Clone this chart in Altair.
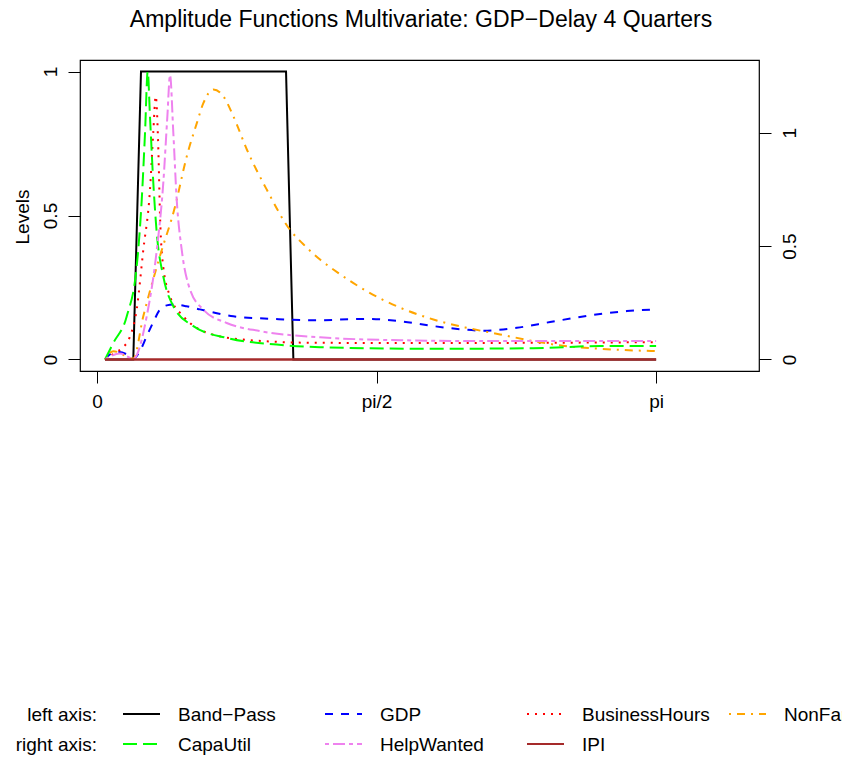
import altair as alt
import pandas as pd

TITLE = "Amplitude Functions Multivariate: GDP\u2212Delay 4 Quarters"
FONT = "Liberation Sans"

# frequency as fraction of pi
bp_x = [0.0143, 0.0649, 0.0787, 0.3381, 0.3512, 1.0]
bp_y = [0.0, 0.0, 1.0, 1.0, 0.0, 0.0]

gdp_x = [0.0143, 0.0250, 0.0400, 0.0530, 0.0649, 0.0770, 0.0889, 0.1007, 0.1127, 0.1246,
         0.1365, 0.1600, 0.1843, 0.2438, 0.3154, 0.3870, 0.4825, 0.5420, 0.6016, 0.6500,
         0.6905, 0.7508, 0.8104, 0.8850, 0.9476, 1.0]
gdp_y = [0.000, 0.020, 0.026, 0.018, 0.003, 0.030, 0.081, 0.130, 0.174, 0.188,
         0.191, 0.185, 0.174, 0.150, 0.141, 0.136, 0.141, 0.133, 0.116, 0.105,
         0.100, 0.110, 0.130, 0.154, 0.168, 0.174]

bh_x = [0.0143, 0.0300, 0.0450, 0.0580, 0.0710, 0.0828, 0.0948, 0.1007, 0.1050, 0.1097,
        0.1127, 0.1186, 0.1306, 0.1544, 0.1902, 0.2617, 0.3870, 0.6000, 0.8000, 1.0]
bh_y = [0.000, 0.020, 0.040, 0.075, 0.174, 0.380, 0.590, 0.790, 0.914, 0.730,
        0.500, 0.320, 0.220, 0.150, 0.098, 0.069, 0.058, 0.057, 0.058, 0.060]

nfp_x = [0.0143, 0.0292, 0.0649, 0.0828, 0.1127, 0.1395, 0.1605, 0.1784, 0.1902, 0.2081,
         0.2259, 0.2438, 0.2678, 0.3036, 0.3453, 0.3691, 0.3989, 0.4227, 0.4825, 0.5420,
         0.6016, 0.6614, 0.7209, 0.7800, 0.8402, 0.8998, 1.0]
nfp_y = [0.000, 0.029, 0.003, 0.150, 0.360, 0.530, 0.705, 0.820, 0.890, 0.9375,
         0.914, 0.845, 0.730, 0.590, 0.450, 0.400, 0.347, 0.3125, 0.237, 0.180,
         0.139, 0.110, 0.087, 0.064, 0.046, 0.037, 0.029]

cu_x = [0.0143, 0.0292, 0.0531, 0.0710, 0.0800, 0.0859, 0.0907, 0.0948, 0.1007, 0.1068,
        0.1186, 0.1365, 0.1723, 0.2320, 0.3215, 0.3989, 0.6016, 0.7800, 0.8998, 1.0]
cu_y = [0.000, 0.073, 0.190, 0.410, 0.704, 1.000, 1.270, 1.070, 0.780, 0.560,
        0.366, 0.235, 0.147, 0.095, 0.066, 0.054, 0.047, 0.050, 0.059, 0.059]

hw_x = [0.0143, 0.0411, 0.0649, 0.0889, 0.1068, 0.1186, 0.1258, 0.1306, 0.1365, 0.1426,
        0.1515, 0.1664, 0.1902, 0.2320, 0.2916, 0.3989, 0.5420, 0.7200, 1.0]
hw_y = [0.000, 0.026, 0.003, 0.190, 0.480, 0.780, 1.070, 1.254, 1.000, 0.704,
        0.484, 0.308, 0.220, 0.161, 0.125, 0.098, 0.085, 0.081, 0.081]

ipi_x = [0.0143, 1.0]
ipi_y = [0.0, 0.0]

names = ["Band\u2212Pass", "GDP", "BusinessHours", "NonFarmPayroll",
         "CapaUtil", "HelpWanted", "IPI"]
colors = ["#000000", "#0000FF", "#FF0000", "#FFA500", "#00FF00", "#EE82EE", "#A52A2A"]
dashes = [[1, 0], [8, 8], [2, 6], [2, 6, 8, 6], [14, 6], [4, 4, 12, 4], [1, 0]]
leg_col = [0, 1, 2, 3, 0, 1, 2]
leg_row = [0, 0, 0, 0, 1, 1, 1]
row_labels = ["left axis:", "right axis:"]


def frame(name, xs, ys):
    return pd.DataFrame({"series": name, "x": xs, "y": ys})


df_bp = frame(names[0], bp_x, bp_y)
df_left = pd.concat([frame(names[1], gdp_x, gdp_y), frame(names[2], bh_x, bh_y),
                     frame(names[3], nfp_x, nfp_y)])
df_right = pd.concat([frame(names[4], cu_x, cu_y), frame(names[5], hw_x, hw_y)])
df_ipi = frame(names[6], ipi_x, ipi_y)

cscale = alt.Scale(domain=names, range=colors)
dscale = alt.Scale(domain=names, range=dashes)
color = alt.Color("series:N", scale=cscale, legend=None)
dash = alt.StrokeDash("series:N", scale=dscale, legend=None)

AX = dict(labelFont=FONT, labelFontSize=19, labelColor="black", tickColor="black",
          tickWidth=1, domain=False, grid=False, tickSize=12)

xaxis = alt.Axis(values=[0, 0.5, 1],
                 labelExpr="datum.value == 0 ? '0' : (datum.value == 0.5 ? 'pi/2' : 'pi')",
                 title=None, labelPadding=24, labelBaseline="alphabetic", **AX)
x_enc = alt.X("x:Q", scale=alt.Scale(domain=[-0.0304, 1.184], nice=False, zero=False), axis=xaxis)

left_axis = alt.Axis(orient="left", values=[0, 0.5, 1], format="~g", title="Levels",
                     labelAngle=270, labelAlign="center", labelBaseline="alphabetic",
                     labelPadding=12, titleFont=FONT, titleFontSize=19,
                     titleFontWeight="normal", titleColor="black",
                     titleAngle=270, titleAlign="center", titleBaseline="alphabetic",
                     titleX=-52, titleY=156.5, **AX)
right_axis = alt.Axis(orient="right", values=[0, 0.5, 1], format="~g", title=None,
                      labelAngle=270, labelAlign="center", labelBaseline="alphabetic",
                      labelPadding=24, **AX)
yl = alt.Y("y:Q", scale=alt.Scale(domain=[-0.04, 1.04], nice=False, zero=False), axis=left_axis)
yr = alt.Y("y:Q", scale=alt.Scale(domain=[-0.0508, 1.3208], nice=False, zero=False), axis=right_axis)

left_group = alt.layer(
    alt.Chart(df_bp).mark_line(strokeWidth=2).encode(x=x_enc, y=yl, color=color, strokeDash=dash),
    alt.Chart(df_left).mark_line(strokeWidth=2, interpolate="monotone").encode(
        x=x_enc, y=yl, color=color, strokeDash=dash),
)
right_group = alt.layer(
    alt.Chart(df_right).mark_line(strokeWidth=2, interpolate="monotone").encode(
        x=x_enc, y=yr, color=color, strokeDash=dash),
    alt.Chart(df_ipi).mark_line(strokeWidth=2.5).encode(x=x_enc, y=yr, color=color, strokeDash=dash),
)

df_leg = pd.DataFrame({"series": names, "col": leg_col, "row": leg_row})
leg_base = alt.Chart(df_leg).transform_calculate(
    x0="43 + 202 * datum.col", x1="80 + 202 * datum.col",
    lx="98 + 202 * datum.col", ly="654 + 30 * datum.row", ty="661 + 30 * datum.row")
leg_lines = leg_base.mark_rule(strokeWidth=2).encode(
    x=alt.X("x0:Q", scale=None), x2="x1:Q", y=alt.Y("ly:Q", scale=None),
    color=color, strokeDash=dash)
leg_text = leg_base.mark_text(align="left", baseline="alphabetic", fontSize=19, font=FONT,
                              color="black").encode(
    x=alt.X("lx:Q", scale=None), y=alt.Y("ty:Q", scale=None), text="series:N")

df_rows = pd.DataFrame({"label": row_labels, "row": [0, 1]})
row_text = alt.Chart(df_rows).transform_calculate(ty="661 + 30 * datum.row").mark_text(
    align="right", baseline="alphabetic", fontSize=19, font=FONT, color="black").encode(
    x=alt.value(17), y=alt.Y("ty:Q", scale=None), text="label:N")

title_text = alt.Chart(pd.DataFrame({"t": [TITLE]})).mark_text(
    align="center", baseline="alphabetic", fontSize=23, font=FONT, color="black").encode(
    x=alt.value(341), y=alt.value(-33), text="t:N")

chart = alt.layer(left_group, right_group, leg_lines, leg_text, row_text, title_text).resolve_scale(
    y="independent"
).properties(
    width=679, height=311,
    background="white",
    autosize=alt.AutoSizeParams(type="none"),
    padding={"left": 80, "top": 60, "right": 83, "bottom": 388},
).configure_view(stroke="black", strokeWidth=1.2)

chart.save("out.html", embed_options={"renderer": "svg", "actions": False})
